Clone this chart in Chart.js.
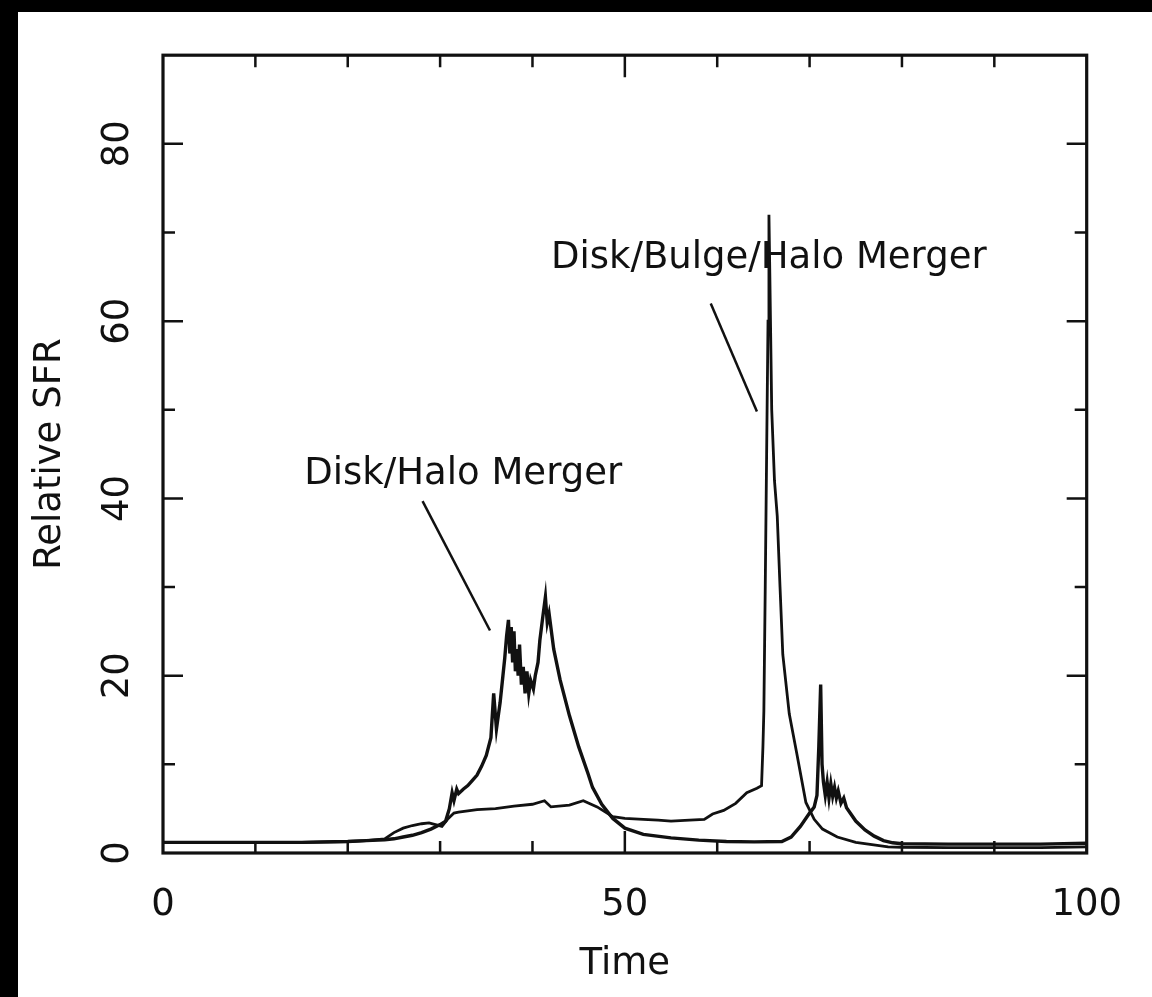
<!DOCTYPE html>
<html>
<head>
<meta charset="utf-8">
<script src="https://cdn.jsdelivr.net/npm/chart.js@4.4.1/dist/chart.umd.min.js"></script>
<style>
html, body { margin: 0; padding: 0; background: #000; }
#wrap { position: absolute; left: 18px; top: 12px; width: 1134px; height: 985px; background: #fff; }
</style>
</head>
<body>
<div id="wrap"><canvas id="sfrChart"></canvas></div>
<script>
// ---- data ----
const diskHaloTime = [0, 5, 10, 15, 20, 22, 24, 25, 26, 27, 28, 29, 30, 30.6, 31, 31.3, 31.5, 31.8, 32, 32.5,
  33, 33.5, 34, 34.5, 35, 35.5, 35.8, 36.1, 36.5, 36.8, 37, 37.2, 37.4, 37.55, 37.7, 37.85, 38, 38.15, 38.3, 38.45,
  38.6, 38.8, 39, 39.2, 39.4, 39.6, 39.8, 40.1, 40.3, 40.6, 40.8, 41.1, 41.4, 41.6, 41.8, 42.3, 43, 44, 45, 46,
  46.5, 47.5, 48.7, 50, 52, 55, 58, 61, 64, 67, 68, 69, 70, 70.5, 70.8, 71, 71.2, 71.35, 71.5, 71.7,
  71.9, 72.1, 72.3, 72.5, 72.7, 72.9, 73.1, 73.4, 73.7, 74, 75, 76, 77, 78, 79, 80, 85, 90, 95, 100];
const diskHaloSfr = [1.2, 1.2, 1.2, 1.2, 1.3, 1.4, 1.5, 1.6, 1.8, 2.0, 2.3, 2.7, 3.2, 3.6, 5.0, 6.8, 5.9, 7.2, 6.7, 7.2,
  7.6, 8.2, 8.8, 9.8, 11, 13, 18, 14, 17, 20, 22, 24.5, 26.3, 22.5, 25.5, 21.5, 25, 20.5, 23, 20,
  23.5, 19, 21, 18, 20.5, 18, 19.5, 18.5, 20, 21.5, 24, 26.5, 28.9, 26, 27, 23, 19.5, 15.5, 12, 9,
  7.4, 5.5, 3.9, 2.8, 2.1, 1.7, 1.45, 1.3, 1.25, 1.3, 1.8, 3, 4.5, 5.2, 6.5, 12, 19, 10, 8, 6.5,
  8, 6.2, 7.8, 6.4, 7.4, 6.2, 7, 5.6, 6.2, 5.1, 3.6, 2.6, 1.9, 1.4, 1.15, 1.05, 1.0, 1.0, 1.0, 1.1];

const bulgeTime = [0, 5, 10, 15, 20, 22, 24, 25, 26, 27, 28, 28.8, 29.5, 30.2, 30.8, 31.5, 32, 34, 36, 38,
  40, 41.3, 42, 44, 45.5, 47, 48.7, 50, 52, 53.6, 55, 57, 58.6, 59.5, 60.7, 62, 63.2, 64.3, 64.8, 64.95,
  65.05, 65.2, 65.35, 65.5, 65.6, 65.7, 65.9, 66.2, 66.5, 66.8, 67.1, 67.8, 68.6, 69.6, 70.5, 71.4, 73, 75, 78.5, 80,
  85, 90, 95, 100];
const bulgeSfr = [1.2, 1.2, 1.2, 1.2, 1.3, 1.4, 1.6, 2.3, 2.8, 3.1, 3.3, 3.4, 3.2, 3.0, 3.8, 4.5, 4.6, 4.9, 5.0, 5.3,
  5.5, 5.9, 5.2, 5.4, 5.9, 5.2, 4.1, 3.9, 3.8, 3.7, 3.6, 3.7, 3.8, 4.4, 4.8, 5.6, 6.8, 7.3, 7.6, 12,
  16, 30, 45, 60, 72, 65, 50, 42, 38, 30, 22.4, 15.7, 11.3, 5.7, 3.8, 2.7, 1.8, 1.2, 0.7, 0.65,
  0.6, 0.6, 0.6, 0.7];

const xTickLabels = [0, 50, 100];
const yTickLabels = [0, 20, 40, 60, 80];

const labelFont = { family: "DejaVu Sans", size: 37 };

// callouts, in data units
const callouts = [
  { text: "Disk/Halo Merger", at: [15.3, 41.6], from: [28.1, 39.7], to: [35.4, 25.1] },
  { text: "Disk/Bulge/Halo Merger", at: [42, 66], from: [59.3, 62], to: [64.3, 49.8] }
];

function pairs(xs, ys) {
  return xs.map((t, i) => ({ x: t, y: ys[i] }));
}

// frame + inward ticks on all four sides
const frameTicks = {
  id: "frameTicks",
  afterDatasetsDraw(chart) {
    const { ctx, chartArea: a, scales: { x, y } } = chart;
    ctx.save();
    ctx.strokeStyle = "#111";
    ctx.lineWidth = 3.2;
    ctx.strokeRect(a.left, a.top, a.right - a.left, a.bottom - a.top);
    ctx.lineWidth = 2.5;
    ctx.beginPath();
    for (let v = 10; v < 100; v += 10) {
      const px = x.getPixelForValue(v);
      const len = v % 50 === 0 ? 22 : 12;
      ctx.moveTo(px, a.bottom); ctx.lineTo(px, a.bottom - len);
      ctx.moveTo(px, a.top); ctx.lineTo(px, a.top + len);
    }
    for (let v = 10; v < 90; v += 10) {
      const py = y.getPixelForValue(v);
      const len = v % 20 === 0 ? 20 : 12;
      ctx.moveTo(a.left, py); ctx.lineTo(a.left + len, py);
      ctx.moveTo(a.right, py); ctx.lineTo(a.right - len, py);
    }
    ctx.stroke();
    ctx.restore();
  }
};

const calloutPlugin = {
  id: "callouts",
  afterDraw(chart) {
    const { ctx, scales: { x, y } } = chart;
    ctx.save();
    ctx.fillStyle = "#111";
    ctx.strokeStyle = "#111";
    ctx.lineWidth = 2.5;
    ctx.font = labelFont.size + "px " + labelFont.family;
    ctx.textBaseline = "alphabetic";
    callouts.forEach(c => {
      ctx.fillText(c.text, x.getPixelForValue(c.at[0]), y.getPixelForValue(c.at[1]));
      ctx.beginPath();
      ctx.moveTo(x.getPixelForValue(c.from[0]), y.getPixelForValue(c.from[1]));
      ctx.lineTo(x.getPixelForValue(c.to[0]), y.getPixelForValue(c.to[1]));
      ctx.stroke();
    });
    ctx.restore();
  }
};

new Chart(document.getElementById("sfrChart"), {
  type: "line",
  data: {
    datasets: [
      {
        label: "Disk/Halo Merger",
        data: pairs(diskHaloTime, diskHaloSfr),
        borderColor: "#111",
        borderWidth: 3.4,
        pointRadius: 0,
        tension: 0
      },
      {
        label: "Disk/Bulge/Halo Merger",
        data: pairs(bulgeTime, bulgeSfr),
        borderColor: "#111",
        borderWidth: 2.8,
        pointRadius: 0,
        tension: 0
      }
    ]
  },
  options: {
    responsive: true,
    maintainAspectRatio: false,
    animation: false,
    layout: { padding: { left: 0, top: 33, right: 50, bottom: 0 } },
    plugins: { legend: { display: false }, tooltip: { enabled: false } },
    scales: {
      x: {
        type: "linear",
        min: 0,
        max: 100,
        grid: { display: false, drawTicks: false },
        border: { display: false },
        afterBuildTicks: s => { s.ticks = xTickLabels.map(v => ({ value: v })); },
        afterFit: s => { s.height = 144; },
        ticks: { color: "#111", font: labelFont, padding: 30, maxRotation: 0, autoSkip: false },
        title: { display: true, text: "Time", color: "#111", font: labelFont, padding: { top: 0, bottom: 10 } }
      },
      y: {
        type: "linear",
        min: 0,
        max: 90,
        grid: { display: false, drawTicks: false },
        border: { display: false },
        afterBuildTicks: s => { s.ticks = yTickLabels.map(v => ({ value: v })); },
        afterFit: s => { s.width = 145; },
        ticks: { color: "#111", font: labelFont, padding: 21, minRotation: 90, maxRotation: 90, crossAlign: "center", autoSkip: false },
        title: { display: true, text: "Relative SFR", color: "#111", font: labelFont, padding: { top: 10, bottom: 0 } }
      }
    }
  },
  plugins: [frameTicks, calloutPlugin]
});
</script>
</body>
</html>
